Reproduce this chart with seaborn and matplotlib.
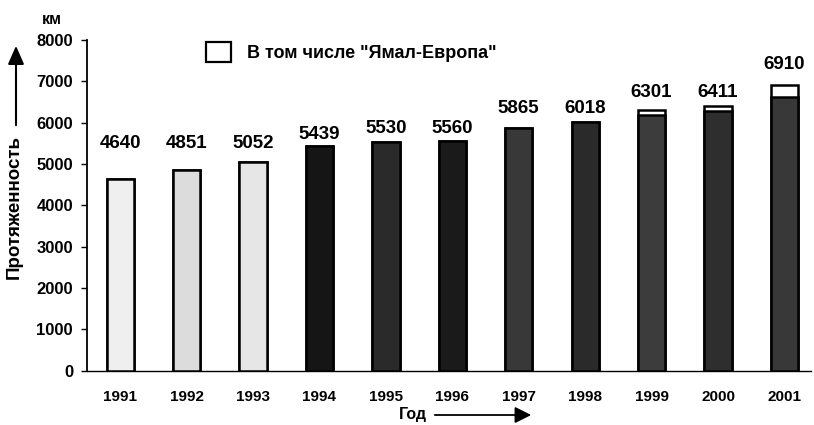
import matplotlib
matplotlib.use("Agg")
import matplotlib.pyplot as plt
from matplotlib.patches import Patch, FancyArrowPatch
import seaborn as sns
import pandas as pd

# Gas pipeline length by year, km
years = ["1991", "1992", "1993", "1994", "1995", "1996",
         "1997", "1998", "1999", "2000", "2001"]
length_km = [4640, 4851, 5052, 5439, 5530, 5560, 5865, 6018, 6301, 6411, 6910]
# of which the "Yamal-Europe" section
yamal_km = [0, 0, 0, 0, 0, 0, 0, 0, 110, 130, 300]

# heights (km) at which the value labels sit
label_heights = [5500, 5500, 5500, 5720, 5870, 5870, 6350, 6350, 6730, 6730, 7400]

bar_colors = ["#efefef", "#dcdcdc", "#e6e6e6", "#151515", "#2a2a2a", "#1a1a1a",
              "#383838", "#2a2a2a", "#3c3c3c", "#2e2e2e", "#383838"]

df = pd.DataFrame({
    "year": years,
    "total": length_km,
    "base": [t - y for t, y in zip(length_km, yamal_km)],
})

sns.set_theme(style="white")
plt.rcParams["font.family"] = ["Liberation Sans", "DejaVu Sans"]
plt.rcParams["font.weight"] = "bold"
plt.rcParams["text.color"] = "black"
plt.rcParams["axes.labelcolor"] = "black"
plt.rcParams["xtick.color"] = "black"
plt.rcParams["ytick.color"] = "black"

fig = plt.figure(figsize=(8.14, 4.25), dpi=100)
ax = fig.add_axes([87 / 814, 54.3 / 425, 724 / 814, 330.7 / 425])

# full height in white (the Yamal-Europe share shows on top)
sns.barplot(data=df, x="year", y="total", color="white", edgecolor="black",
            linewidth=1.8, width=0.41, ax=ax, zorder=2)
# remaining length with the shaded fill
sns.barplot(data=df, x="year", y="base", hue="year", palette=bar_colors,
            edgecolor="black", linewidth=1.8, width=0.41, legend=False,
            ax=ax, zorder=3)

for i, (v, h) in enumerate(zip(length_km, label_heights)):
    ax.text(i, h, f"{v}", ha="center", va="center", fontsize=13.5,
            fontweight="bold", color="black", zorder=5)

ax.set_xlim(-0.5, 10.4)
ax.set_ylim(0, 8000)
ax.set_yticks(range(0, 8001, 1000))
ax.set_xlabel("")
ax.set_ylabel("")

for side in ("top", "right"):
    ax.spines[side].set_visible(False)
ax.spines["left"].set_color("black")
ax.spines["left"].set_linewidth(1.3)
ax.spines["bottom"].set_color("black")
ax.spines["bottom"].set_linewidth(1.0)

ax.tick_params(axis="y", which="major", direction="out", length=4, width=1,
               color="black", pad=6, labelsize=12, left=True)
ax.tick_params(axis="x", which="major", length=0, pad=14, labelsize=11)
for lab in ax.get_xticklabels() + ax.get_yticklabels():
    lab.set_fontweight("bold")
    lab.set_color("black")

# legend
handle = Patch(facecolor="white", edgecolor="black", linewidth=1.6)
ax.legend([handle], ['В том числе "Ямал-Европа"'], loc="upper left",
          bbox_to_anchor=(206 / 814, 383 / 425), bbox_transform=fig.transFigure,
          frameon=False, borderpad=0, borderaxespad=0,
          handlelength=1.4, handleheight=1.35, handletextpad=0.85,
          prop={"weight": "bold", "size": 13})

# unit above the y axis
fig.text(52, 406, "км", transform=None, ha="center", va="center",
         fontsize=11.5, fontweight="bold", color="black")

# y axis title with arrow
fig.text(14 / 814, 0.512, "Протяженность", rotation=90, ha="center",
         va="center", fontsize=13.5, fontweight="bold", color="black")
fig.add_artist(FancyArrowPatch(
    (16, 297), (16, 382), transform=None,
    arrowstyle="-|>,head_length=0.8,head_width=0.35", mutation_scale=14,
    lw=1.5, color="black"))

# x axis title with arrow
fig.text(413, 10, "Год", transform=None, ha="center", va="center",
         fontsize=11.5, fontweight="bold", color="black")
fig.add_artist(FancyArrowPatch(
    (432, 10), (534, 10), transform=None,
    arrowstyle="-|>,head_length=0.9,head_width=0.45", mutation_scale=11,
    lw=1.3, color="black"))

fig.savefig("out.png", dpi=100)
